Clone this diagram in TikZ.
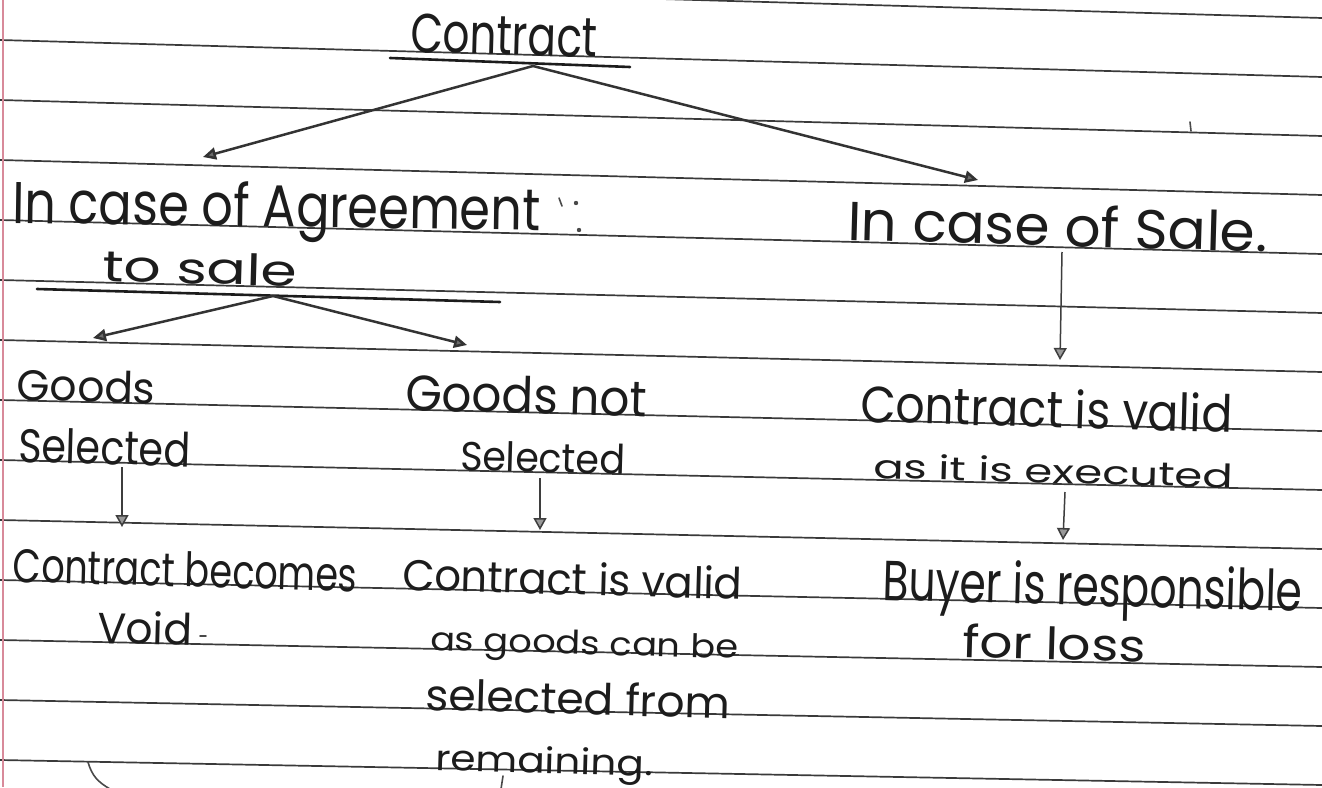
\documentclass[tikz,border=0pt]{standalone}
\usepackage{fontspec}
\setmainfont{Poppins}
\usepackage{graphicx}
\usetikzlibrary{arrows.meta}
\definecolor{ink}{HTML}{1C1C1C}
\definecolor{rulegray}{HTML}{3A3A3A}
\definecolor{margin}{HTML}{D88A9A}
% handwritten line squeezed to a given width and height (in pt)
\newcommand\hw[3]{\resizebox{#1pt}{#2pt}{#3}}

\begin{document}
\begin{tikzpicture}[x=1pt,y=-1pt,
  txt/.style={anchor=base west, inner sep=0pt, outer sep=0pt, text=ink, rotate=-1.6},
  ruled/.style={draw=rulegray, line width=1.7pt},
  branch/.style={draw=ink!90, line width=2.5pt,
    -{Triangle[length=13pt,width=12pt,fill=ink!65]}},
  drop/.style={draw=ink!85, line width=1.5pt,
    -{Triangle[length=12pt,width=13pt,fill=ink!45]}},
  bar/.style={draw=ink, line width=2.6pt, line cap=round},
  scrib/.style={draw=ink!80, line width=1.6pt, line cap=round},
]
\fill[white] (0,0) rectangle (1322,787);
\useasboundingbox (0,0) rectangle (1322,787);

% ruled notebook paper
\begin{scope}
  \clip (0,0) rectangle (1322,787);
  \foreach \k in {-1,...,12}{
    \draw[ruled] (0,{40+60*\k}) -- (1322,{77+59*\k});
  }
  \draw[draw=margin, line width=2pt] (3,0) -- (3,787);
\end{scope}

% ---- top heading ----
\node[txt] (contract) at (410,52) {\hw{187}{39}{Contract}};
\coordinate (cbarL) at (390,58);
\coordinate (cbarR) at (630,67);
\draw[bar] (cbarL) -- (cbarR);
\coordinate (csplit) at (533,66);

% ---- left branch: agreement to sale ----
\node[txt, rotate=0.8] (agr) at (12,223) {\hw{528}{45}{In case of Agreement}};
\draw[scrib] (559,198) -- (562,206);
\fill[ink!80] (576,203) circle (2.2) (579,230) circle (2.2);
\node[txt] (agr2) at (102,281) {\hw{195}{32}{to sale}};
\coordinate (abarL) at (37,289);
\coordinate (abarR) at (500,302);
\draw[bar] (abarL) -- (abarR);
\coordinate (asplit) at (273,296);
\coordinate (agrTip) at (203,157);
\draw[branch] (csplit) -- (agrTip);

% goods selected
\node[txt] (gs1) at (17,400) {\hw{138}{32}{Goods}};
\node[txt] (gs2) at (18,462) {\hw{172}{35}{Selected}};
\coordinate (gsTip) at (93,338);
\draw[branch] (asplit) -- (gsTip);
\node[txt] (void1) at (13,582) {\hw{344}{35}{Contract becomes}};
\node[txt] (void2) at (97,643) {\hw{95}{33}{Void}};
\coordinate (gsFoot) at (122,467);
\coordinate (voidHead) at (122,527);
\draw[drop] (gsFoot) -- (voidHead);

% goods not selected
\node[txt] (gn1) at (405,410) {\hw{242}{37}{Goods not}};
\node[txt] (gn2) at (460,470) {\hw{165}{30}{Selected}};
\coordinate (gnTip) at (467,345);
\draw[branch] (asplit) -- (gnTip);
\node[txt] (val1) at (402,590) {\hw{340}{33}{Contract is valid}};
\node[txt] (val2) at (430,650) {\hw{308}{24}{as goods can be}};
\node[txt] (val3) at (425,710) {\hw{305}{33}{selected from}};
\node[txt] (val4) at (435,770) {\hw{218}{27}{remaining.}};
\coordinate (gnFoot) at (540,478);
\coordinate (valHead) at (540,530);
\draw[drop] (gnFoot) -- (valHead);

% ---- right branch: sale ----
\node[txt] (sale) at (847,240) {\hw{420}{42}{In case of Sale.}};
\coordinate (saleTip) at (978,180);
\draw[branch] (csplit) -- (saleTip);
\node[txt] (exe1) at (860,422) {\hw{372}{39}{Contract is valid}};
\node[txt] (exe2) at (873,478) {\hw{360}{25}{as it is executed}};
\coordinate (saleFoot) at (1062,252);
\coordinate (exeHead) at (1060,360);
\draw[drop] (saleFoot) -- (exeHead);
\node[txt] (buy1) at (882,600) {\hw{420}{43}{Buyer is responsible}};
\node[txt] (buy2) at (962,657) {\hw{183}{34}{for loss}};
\coordinate (exeFoot) at (1065,492);
\coordinate (buyHead) at (1063,540);
\draw[drop] (exeFoot) -- (buyHead);

% stray pen marks on the page
\draw[scrib] (1190,122) -- (1191,131);
\draw[scrib] (200,636) -- (206,636);
\draw[scrib] (88,762) .. controls (92,776) and (98,782) .. (110,789);
\draw[scrib] (503,776) -- (501,789);
\end{tikzpicture}
\end{document}
